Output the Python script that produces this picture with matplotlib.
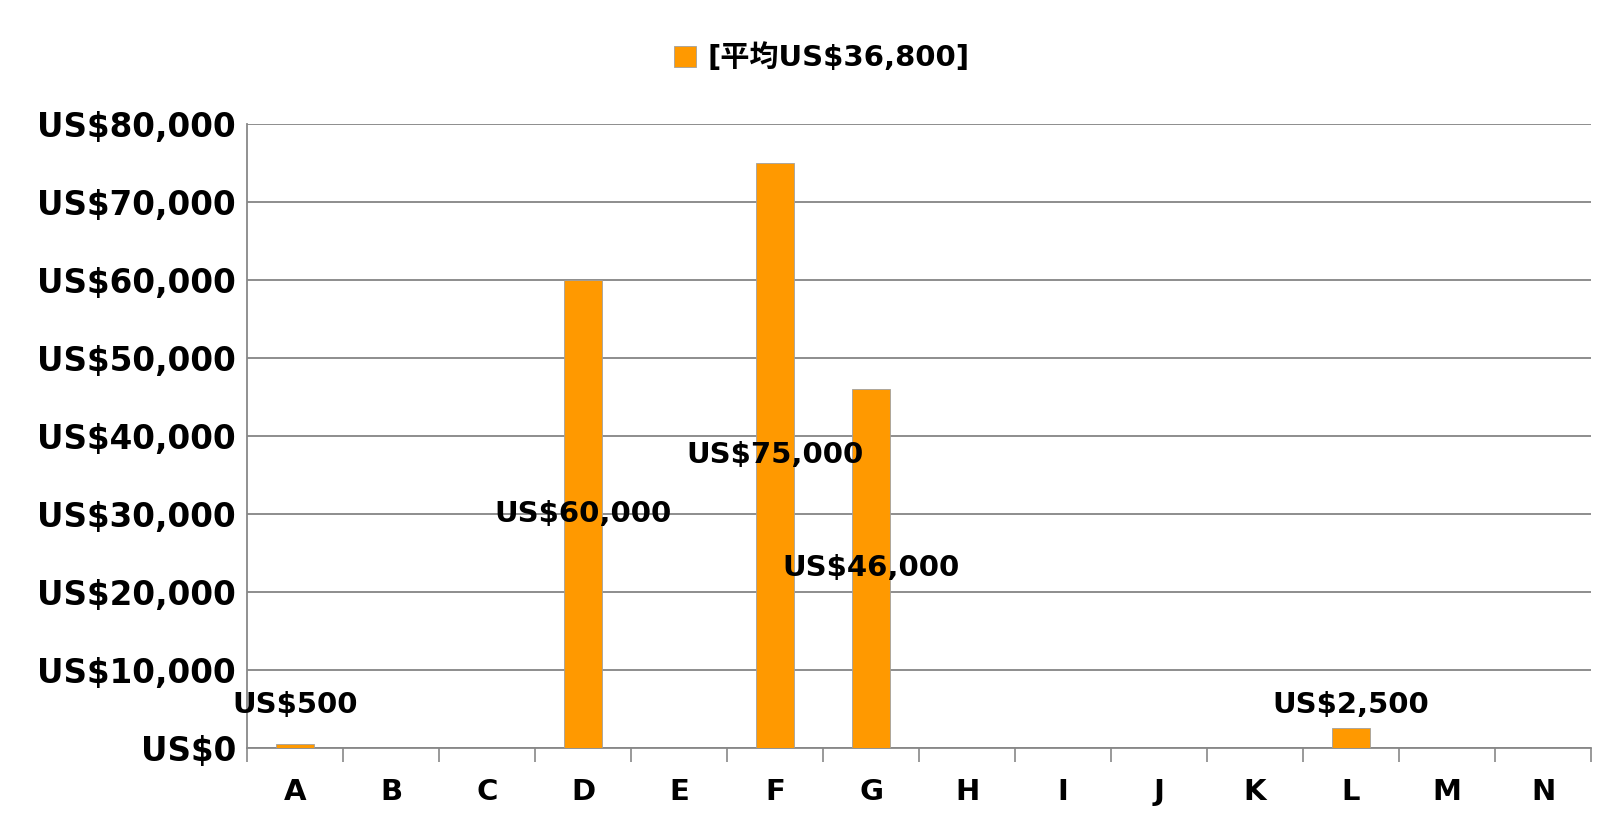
import numpy as np
import matplotlib.pyplot as plt

categories = ['A', 'B', 'C', 'D', 'E', 'F', 'G', 'H', 'I', 'J', 'K', 'L', 'M', 'N']
values = [500, 0, 0, 60000, 0, 75000, 46000, 0, 0, 0, 0, 2500, 0, 0]
legend_label = '[平均US$36,800]'
yticks = [0, 10000, 20000, 30000, 40000, 50000, 60000, 70000, 80000]

plt.rcParams['font.family'] = ['DejaVu Sans', 'Noto Sans CJK JP']
plt.rcParams['font.weight'] = 'bold'

fig = plt.figure(figsize=(16.01, 8.21), dpi=100)
ax = fig.add_axes([247 / 1601, 1 - 747.5 / 821, (1591 - 247) / 1601, (747.5 - 124.5) / 821])

x = np.arange(len(categories))
ax.bar(x, values, width=0.4, color='#FF9900', edgecolor='#A0A0A0', linewidth=0.6,
       label=legend_label, zorder=3)

# data labels: centered on bar, small bars get a label above
for xi, v in zip(x, values):
    if v == 0:
        continue
    ly = v / 2 if v >= 10000 else 5500
    ax.text(xi, ly, f'US${v:,}', ha='center', va='center', fontsize=21,
            fontweight='bold', color='black', zorder=4)

ax.set_xlim(-0.5, len(categories) - 0.5)
ax.set_ylim(0, 80000)
ax.set_yticks(yticks)
ax.set_yticklabels([f'US${t:,}' for t in yticks])
ax.tick_params(axis='y', length=0, pad=8, labelsize=23.5)

ax.set_xticks(x)
ax.set_xticklabels(categories)
ax.set_xticks(np.arange(len(categories) + 1) - 0.5, minor=True)
ax.tick_params(axis='x', which='major', length=0, pad=22, labelsize=21)
ax.tick_params(axis='x', which='minor', length=10, width=1.2, color='#888888')

ax.grid(axis='y', color='#858585', linewidth=1.3, zorder=0)
for s in ['top', 'right']:
    ax.spines[s].set_visible(False)
ax.spines['left'].set_color('#888888')
ax.spines['bottom'].set_color('#888888')
ax.spines['left'].set_linewidth(1.3)
ax.spines['bottom'].set_linewidth(1.3)

fig.legend(loc='center', bbox_to_anchor=(822 / 1601, 1 - 58 / 821), frameon=False,
           fontsize=21, handlelength=0.75, handleheight=0.75, handletextpad=0.4)

fig.savefig('out.png', dpi=100)
